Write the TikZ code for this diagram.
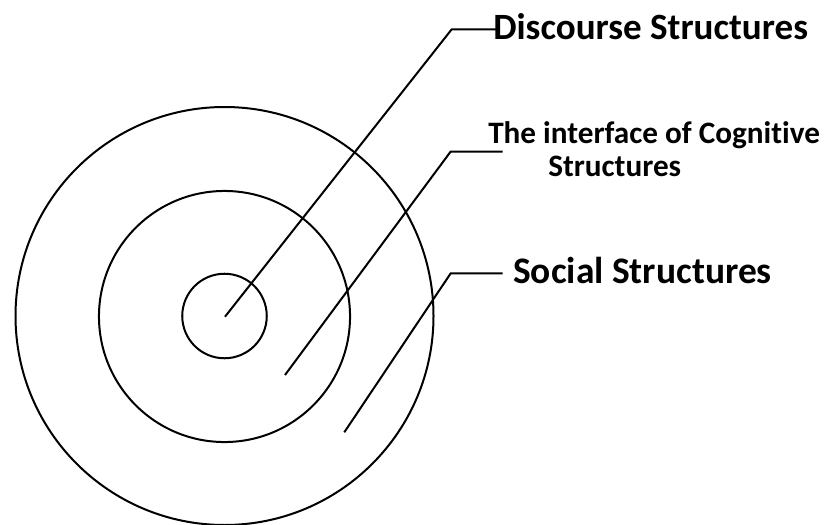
\documentclass[tikz,border=0pt]{standalone}
\usepackage{fontspec}
\setmainfont{Carlito}[Ligatures=NoCommon]
\usetikzlibrary{positioning}
\tikzset{
	ring/.style={
		draw, circle, line width=1.5pt, inner sep=0pt
	},
	leader/.style={line width=1.5pt},
	tag/.style={anchor=base west, inner sep=0pt, font=\bfseries}
}

\begin{document}
\begin{tikzpicture}[x=0.75pt,y=-0.75pt]
				\useasboundingbox (0,0) rectangle (830,524);
				% three nested rings
				\node[ring, minimum size=313.5pt] (outer) at (224.5,316) {};
				\node[ring, minimum size=188.3pt] (middle) at (224.5,316.5) {};
				\node[ring, minimum size=63.4pt]  (inner) at (224.5,316) {};
				% labels
				\node[tag, font=\bfseries\fontsize{27.8}{33}\selectfont] (discourse) at (493,40) {Discourse Structures};
				\node[tag, font=\bfseries\fontsize{23.4}{28}\selectfont] (cognitive) at (488,143.3) {The interface of Cognitive};
				\node[tag, font=\bfseries\fontsize{23.4}{28}\selectfont] (cogsecond) at (548,176.7) {Structures};
				\node[tag, font=\bfseries\fontsize{28.1}{33}\selectfont] (social) at (513,283.3) {Social Structures};
				% leader lines
				\coordinate (p1) at (225,316.7);
				\coordinate (k1) at (451.7,29.3);
				\coordinate (e1) at (498,29.3);
				\coordinate (p2) at (285,375);
				\coordinate (k2) at (450.7,151.5);
				\coordinate (e2) at (502.7,151.5);
				\coordinate (p3) at (344.3,432.3);
				\coordinate (k3) at (450.7,273.3);
				\coordinate (e3) at (502.7,273.3);
				\draw[leader] (p1) -- (k1) -- (e1);
				\draw[leader] (p2) -- (k2) -- (e2);
				\draw[leader] (p3) -- (k3) -- (e3);
			\end{tikzpicture}
\end{document}
